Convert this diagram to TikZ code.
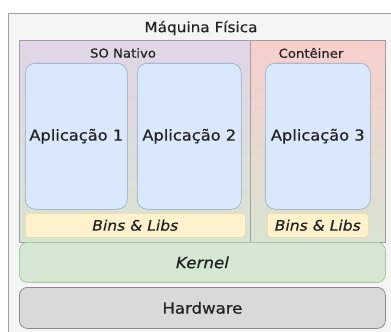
\documentclass[tikz,border=0pt]{standalone}
\usepackage{fontspec}
\setmainfont[FakeStretch=1.08,FakeBold=0.5]{DejaVu Sans}
\usetikzlibrary{positioning}

\definecolor{machfill}{HTML}{F5F5F5}
\definecolor{machline}{HTML}{A0A0A0}
\definecolor{osfill}{HTML}{E1D5E7}
\definecolor{ctfill}{HTML}{F8CECC}
\definecolor{lowfill}{HTML}{D8E4D2}
\definecolor{appfill}{HTML}{DAE8FC}
\definecolor{appline}{HTML}{8FA6C4}
\definecolor{libfill}{HTML}{FFF2CC}
\definecolor{libline}{HTML}{EBD9A4}
\definecolor{kernfill}{HTML}{D5E8D4}
\definecolor{kernline}{HTML}{A8C8A0}
\definecolor{hwfill}{HTML}{D9D9D9}
\definecolor{hwline}{HTML}{8C8C8C}
\definecolor{txt}{HTML}{222222}

\tikzset{
  box/.style={anchor=north west, inner sep=0pt, align=center, text=txt},
  panel/.style={box, draw=machline, line width=0.6pt},
  appbox/.style={box, draw=appline, fill=appfill, rounded corners=7.5pt,
    minimum width=0.75*#1pt, minimum height=0.75*146pt,
    font=\fontsize{11.3}{13}\selectfont},
  libbox/.style={box, draw=libline, fill=libfill, rounded corners=2.5pt,
    minimum width=0.75*#1pt, minimum height=0.75*24pt,
    font=\fontsize{10.8}{12}\selectfont\itshape},
  layerbox/.style={box, rounded corners=6pt, line width=0.6pt,
    minimum width=0.75*366pt, minimum height=0.75*40pt},
  title/.style={inner sep=0pt, text=txt}
}

\begin{document}
\begin{tikzpicture}[x=0.75pt,y=-0.75pt]
  \clip (0,0) rectangle (391,331);
  \useasboundingbox (0,0) rectangle (391,331);

  % physical machine
  \node[box, draw=machline, fill=machfill, line width=0.8pt,
    minimum width=0.75*390pt, minimum height=0.75*325pt] (machine) at (8,13) {};
  \node[title, font=\fontsize{10.6}{12}\selectfont] (machinelbl) at (201,28) {Máquina Física};

  % native os and container
  \node[panel, top color=osfill, bottom color=lowfill,
    minimum width=0.75*231pt, minimum height=0.75*202pt] (native) at (19,40) {};
  \node[panel, top color=ctfill, bottom color=lowfill,
    minimum width=0.75*135pt, minimum height=0.75*202pt] (container) at (250,40) {};
  \node[title, font=\fontsize{9.2}{11}\selectfont] (nativelbl) at (123,53) {SO Nativo};
  \node[title, font=\fontsize{9.2}{11}\selectfont] (containerlbl) at (311,53) {Contêiner};

  % applications
  \node[appbox=102] (app1) at (25,63) {Aplicação 1};
  \node[appbox=104] (app2) at (137,63) {Aplicação 2};
  \node[appbox=105] (app3) at (265,63) {Aplicação 3};

  % bins and libs
  \node[libbox=220] (libs1) at (25,213) {Bins \& Libs};
  \node[libbox=101] (libs2) at (267,213) {Bins \& Libs};

  % kernel and hardware
  \node[layerbox, draw=kernline, fill=kernfill,
    font=\fontsize{11.6}{13}\selectfont\itshape] (kernel) at (19,242) {Kernel};
  \node[layerbox, draw=hwline, fill=hwfill, minimum height=0.75*41pt,
    font=\fontsize{11.5}{13}\selectfont] (hardware) at (19,287) {Hardware};
\end{tikzpicture}
\end{document}
